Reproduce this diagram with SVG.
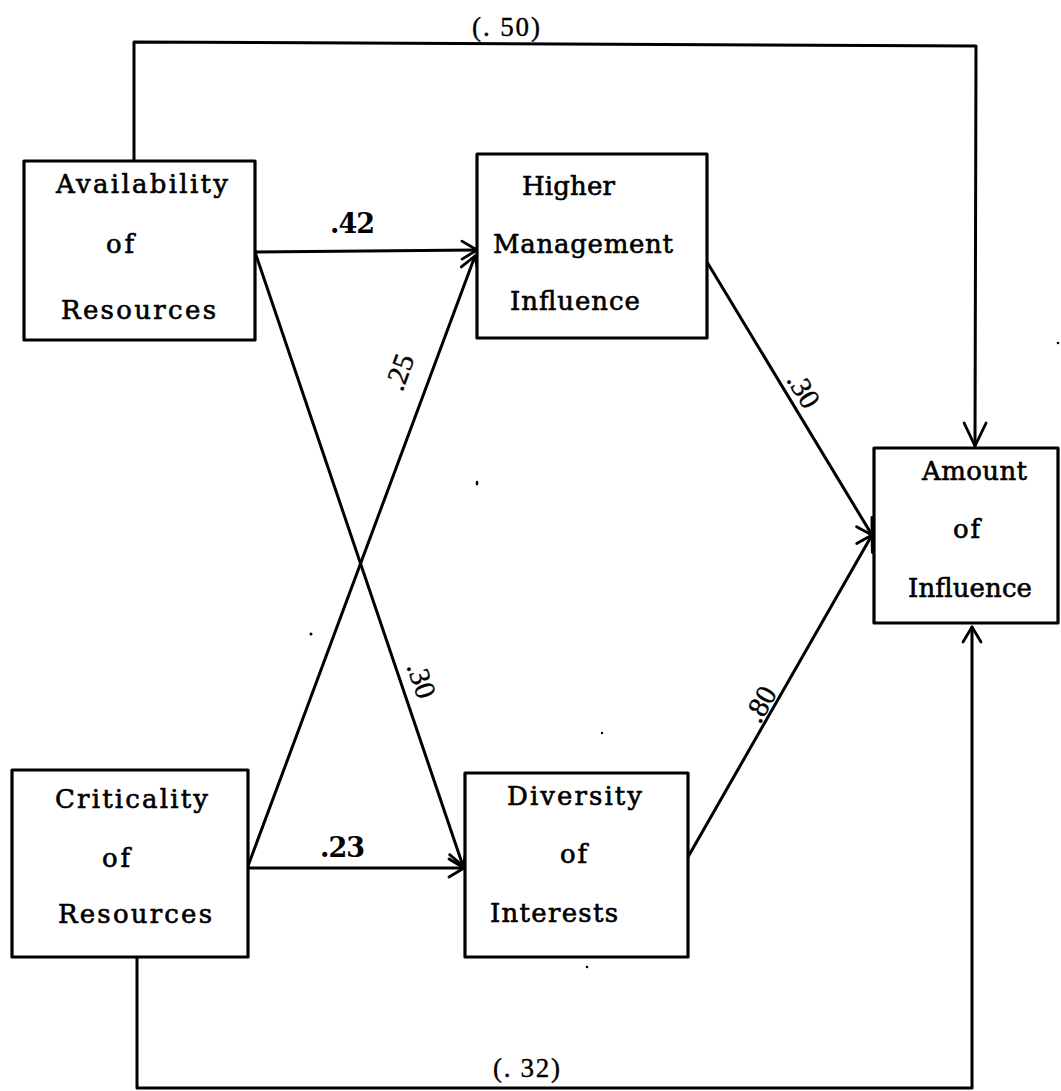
<svg xmlns="http://www.w3.org/2000/svg" width="1061" height="1091" viewBox="0 0 1061 1091">
  <style>
    .box { fill: #fff; stroke: #000; stroke-width: 3.2; stroke-linejoin: round; }
    .line { fill: none; stroke: #000; stroke-width: 3; stroke-linecap: round; stroke-linejoin: round; }
    .lbl { font-family: "DejaVu Serif", "Liberation Serif", serif; font-size: 26px; fill: #000; stroke: #000; stroke-width: 0.6; }
    .coef { font-family: "DejaVu Serif", "Liberation Serif", serif; font-size: 27px; font-weight: bold; fill: #000; }
    .path { font-family: "Liberation Serif", "Times New Roman", serif; font-size: 27px; fill: #000; stroke: #000; stroke-width: 0.4; }
    .slope { font-size: 29px; }
    .speck { fill: #000; }
  </style>
  <defs>
    <marker id="arr" markerUnits="userSpaceOnUse" markerWidth="40" markerHeight="40" refX="0" refY="0" orient="auto" overflow="visible">
      <path d="M-15,-9 L0,0 L-15,9" fill="none" stroke="#000" stroke-width="2.8" stroke-linecap="round" stroke-linejoin="round"/>
    </marker>
    <marker id="arrL" markerUnits="userSpaceOnUse" markerWidth="40" markerHeight="40" refX="0" refY="0" orient="auto" overflow="visible">
      <path d="M-23,-11 L0,0 L-23,11" fill="none" stroke="#000" stroke-width="2.8" stroke-linecap="round" stroke-linejoin="round"/>
    </marker>
  </defs>

  <!-- connectors -->
  <g id="connectors">
    <path class="line" d="M134,160 L134,42 L976,46 L975,446" marker-end="url(#arrL)"/>
    <path class="line" d="M255,252 L477,250" marker-end="url(#arr)"/>
    <path class="line" d="M255,252 L463,866" marker-end="url(#arr)"/>
    <path class="line" d="M248,866 L475,256" marker-end="url(#arr)"/>
    <path class="line" d="M248,868 L464,868" marker-end="url(#arr)"/>
    <path class="line" d="M707,262 L872,535" marker-end="url(#arr)"/>
    <path class="line" d="M688,857 L872,535" marker-end="url(#arr)"/>
    <path class="line" d="M137,957 L137,1088 L972,1088 L972,627" marker-end="url(#arr)"/>

    <text class="path" x="472" y="36" textLength="68" lengthAdjust="spacing">(. 50)</text>
    <text class="path" x="493" y="1077" textLength="67" lengthAdjust="spacing">(. 32)</text>
    <text class="coef" x="330" y="233" textLength="45" lengthAdjust="spacing">.42</text>
    <text class="coef" x="320" y="857" textLength="45" lengthAdjust="spacing">.23</text>
    <text class="path slope" text-anchor="middle" dy="0.35em" transform="translate(399,372) rotate(-70)">.25</text>
    <text class="path slope" text-anchor="middle" dy="0.35em" transform="translate(422,680) rotate(71)">.30</text>
    <text class="path slope" text-anchor="middle" dy="0.35em" transform="translate(804,390) rotate(59)">.30</text>
    <text class="path slope" text-anchor="middle" dy="0.35em" transform="translate(760,704) rotate(-60.5)">.80</text>
  </g>

  <!-- nodes -->
  <g id="availability">
    <rect class="box" x="24" y="161" width="231" height="179"/>
    <text class="lbl" x="56" y="193" textLength="172" lengthAdjust="spacing">Availability</text>
    <text class="lbl" x="106" y="253" textLength="28" lengthAdjust="spacing">of</text>
    <text class="lbl" x="61" y="319" textLength="155" lengthAdjust="spacing">Resources</text>
  </g>
  <g id="higher-management">
    <rect class="box" x="477" y="154" width="230" height="184"/>
    <text class="lbl" x="522" y="195" textLength="93" lengthAdjust="spacing">Higher</text>
    <text class="lbl" x="493" y="253" textLength="180" lengthAdjust="spacing">Management</text>
    <text class="lbl" x="510" y="310" textLength="130" lengthAdjust="spacing">Influence</text>
  </g>
  <g id="amount">
    <rect class="box" x="874" y="448" width="184" height="175"/>
    <text class="lbl" x="922" y="480" textLength="105" lengthAdjust="spacing">Amount</text>
    <text class="lbl" x="953" y="538" textLength="27" lengthAdjust="spacing">of</text>
    <text class="lbl" x="908" y="597" textLength="124" lengthAdjust="spacing">Influence</text>
  </g>
  <g id="criticality">
    <rect class="box" x="12" y="770" width="236" height="187"/>
    <text class="lbl" x="55" y="808" textLength="153" lengthAdjust="spacing">Criticality</text>
    <text class="lbl" x="102" y="867" textLength="28" lengthAdjust="spacing">of</text>
    <text class="lbl" x="58" y="923" textLength="154" lengthAdjust="spacing">Resources</text>
  </g>
  <g id="diversity">
    <rect class="box" x="465" y="773" width="223" height="184"/>
    <text class="lbl" x="507" y="805" textLength="135" lengthAdjust="spacing">Diversity</text>
    <text class="lbl" x="560" y="863" textLength="27" lengthAdjust="spacing">of</text>
    <text class="lbl" x="490" y="922" textLength="128" lengthAdjust="spacing">Interests</text>
  </g>

  <!-- stray specks -->
  <g id="specks">
    <ellipse class="speck" cx="477" cy="483" rx="1.3" ry="2.5"/>
    <circle class="speck" cx="311" cy="634" r="1.5"/>
    <circle class="speck" cx="602" cy="733" r="1.2"/>
    <circle class="speck" cx="1058" cy="343" r="1.3"/>
    <circle class="speck" cx="587" cy="967" r="1.3"/>
  </g>
</svg>
